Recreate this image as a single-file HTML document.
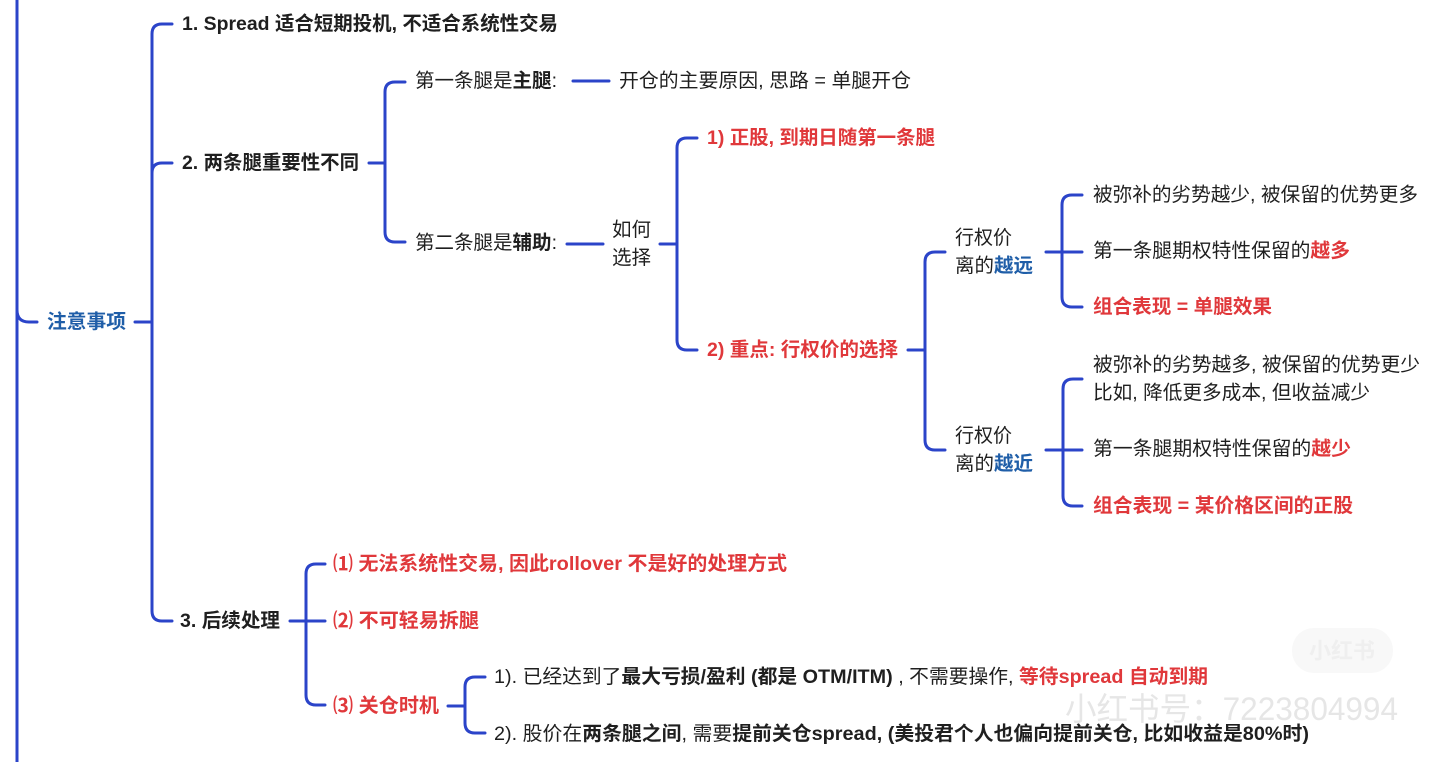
<!DOCTYPE html>
<html>
<head>
<meta charset="utf-8">
<style>
  html,body{margin:0;padding:0;background:#fff;}
  body{width:1440px;height:762px;overflow:hidden;}
  svg{display:block;}
  text{font-family:"Liberation Sans","Noto Sans CJK SC",sans-serif;font-size:19.5px;dominant-baseline:central;fill:#1f1f1f;}
  .b{font-weight:700;}
  .r{fill:#e0383b;}
  .bl{fill:#1f5ea8;}
  .ln{fill:none;stroke:#2b44c9;stroke-width:3;stroke-linecap:round;stroke-linejoin:round;}
</style>
</head>
<body>
<svg width="1440" height="762" viewBox="0 0 1440 762" xmlns="http://www.w3.org/2000/svg">
  <!-- watermark -->
  <rect x="1292" y="628" width="101" height="45" rx="22" fill="#f8f8f8"/>
  <text x="1342" y="651" text-anchor="middle" style="font-size:22px;font-weight:700;fill:#efefef;">小红书</text>
  <text x="1065" y="709" textLength="333" lengthAdjust="spacingAndGlyphs" style="font-size:32px;fill:#e6e6e6;">小红书号：7223804994</text>

  <!-- connectors -->
  <!-- A: leftmost -->
  <path class="ln" d="M17,-5 V767"/>
  <path class="ln" d="M17,310 Q17,322 29,322 H37"/>
  <!-- 注意事项 -> B -->
  <path class="ln" d="M135,322 H152"/>
  <path class="ln" d="M172,24 H162 Q152,24 152,34 V611 Q152,621 162,621 H172"/>
  <path class="ln" d="M152,173 Q152,163 162,163 H172"/>
  <!-- 2. -> C -->
  <path class="ln" d="M369,163 H385"/>
  <path class="ln" d="M405,82 H395 Q385,82 385,92 V232 Q385,242 395,242 H405"/>
  <!-- 主腿 -> 开仓 -->
  <path class="ln" d="M573,81 H609"/>
  <!-- 辅助 -> 如何 -->
  <path class="ln" d="M567,244 H603"/>
  <!-- 如何 -> D -->
  <path class="ln" d="M660,244 H677"/>
  <path class="ln" d="M697,138 H687 Q677,138 677,148 V340 Q677,350 687,350 H697"/>
  <!-- 2) -> E -->
  <path class="ln" d="M908,350 H925"/>
  <path class="ln" d="M945,252 H935 Q925,252 925,262 V440 Q925,450 935,450 H945"/>
  <!-- 越远 -> F -->
  <path class="ln" d="M1046,252 H1082"/>
  <path class="ln" d="M1082,195 H1072 Q1062,195 1062,205 V297 Q1062,307 1072,307 H1082"/>
  <!-- 越近 -> G -->
  <path class="ln" d="M1046,450 H1082"/>
  <path class="ln" d="M1082,379 H1073 Q1063,379 1063,389 V496 Q1063,506 1073,506 H1082"/>
  <!-- 3. -> H -->
  <path class="ln" d="M290,621 H325"/>
  <path class="ln" d="M325,564 H316 Q306,564 306,574 V695 Q306,705 316,705 H325"/>
  <!-- (3) -> I -->
  <path class="ln" d="M448,706 H465"/>
  <path class="ln" d="M485,677 H475 Q465,677 465,687 V723 Q465,733 475,733 H485"/>

  <!-- texts -->
  <text x="47" y="322" class="bl" style="font-weight:600;" textLength="79" lengthAdjust="spacingAndGlyphs">注意事项</text>

  <text x="182" y="24" class="b" textLength="376" lengthAdjust="spacingAndGlyphs">1. Spread 适合短期投机, 不适合系统性交易</text>
  <text x="182" y="163" class="b" textLength="177" lengthAdjust="spacingAndGlyphs">2. 两条腿重要性不同</text>

  <text x="415" y="81" textLength="142" lengthAdjust="spacingAndGlyphs">第一条腿是<tspan class="b">主腿</tspan>:</text>
  <text x="619" y="81" textLength="292" lengthAdjust="spacingAndGlyphs">开仓的主要原因,  思路 = 单腿开仓</text>
  <text x="415" y="243" textLength="142" lengthAdjust="spacingAndGlyphs">第二条腿是<tspan class="b">辅助</tspan>:</text>

  <text x="612" y="230" textLength="39" lengthAdjust="spacingAndGlyphs">如何</text>
  <text x="612" y="258" textLength="39" lengthAdjust="spacingAndGlyphs">选择</text>

  <text x="707" y="138" class="b r" textLength="228" lengthAdjust="spacingAndGlyphs">1) 正股, 到期日随第一条腿</text>
  <text x="707" y="350" class="b r" textLength="191" lengthAdjust="spacingAndGlyphs">2) 重点: 行权价的选择</text>

  <text x="955" y="238" textLength="57" lengthAdjust="spacingAndGlyphs">行权价</text>
  <text x="955" y="266" textLength="78" lengthAdjust="spacingAndGlyphs">离的<tspan class="b bl">越远</tspan></text>
  <text x="955" y="436" textLength="57" lengthAdjust="spacingAndGlyphs">行权价</text>
  <text x="955" y="464" textLength="78" lengthAdjust="spacingAndGlyphs">离的<tspan class="b bl">越近</tspan></text>

  <text x="1093" y="195" textLength="325" lengthAdjust="spacingAndGlyphs">被弥补的劣势越少, 被保留的优势更多</text>
  <text x="1093" y="251" textLength="257" lengthAdjust="spacingAndGlyphs">第一条腿期权特性保留的<tspan class="b r">越多</tspan></text>
  <text x="1093" y="307" class="b r" textLength="179" lengthAdjust="spacingAndGlyphs">组合表现 = 单腿效果</text>

  <text x="1093" y="365" textLength="327" lengthAdjust="spacingAndGlyphs">被弥补的劣势越多, 被保留的优势更少</text>
  <text x="1093" y="393" textLength="277" lengthAdjust="spacingAndGlyphs">比如, 降低更多成本, 但收益减少</text>
  <text x="1093" y="449" textLength="258" lengthAdjust="spacingAndGlyphs">第一条腿期权特性保留的<tspan class="b r">越少</tspan></text>
  <text x="1093" y="506" class="b r" textLength="260" lengthAdjust="spacingAndGlyphs">组合表现 = 某价格区间的正股</text>

  <text x="180" y="621" class="b" textLength="100" lengthAdjust="spacingAndGlyphs">3. 后续处理</text>
  <text x="333" y="564" class="r" style="font-weight:600;" textLength="454" lengthAdjust="spacingAndGlyphs">⑴ 无法系统性交易, 因此rollover 不是好的处理方式</text>
  <text x="333" y="621" class="r" style="font-weight:600;" textLength="146" lengthAdjust="spacingAndGlyphs">⑵ 不可轻易拆腿</text>
  <text x="333" y="706" class="r" style="font-weight:600;" textLength="106" lengthAdjust="spacingAndGlyphs">⑶ 关仓时机</text>

  <text x="494" y="677" textLength="714" lengthAdjust="spacingAndGlyphs">1). 已经达到了<tspan class="b">最大亏损/盈利 (都是 OTM/ITM)</tspan> , 不需要操作, <tspan class="r" style="font-weight:600;">等待spread 自动到期</tspan></text>
  <text x="494" y="734" textLength="815" lengthAdjust="spacingAndGlyphs">2). 股价在<tspan class="b">两条腿之间</tspan>, 需要<tspan class="b">提前关仓spread, (美投君个人也偏向提前关仓, 比如收益是80%时)</tspan></text>
</svg>
</body>
</html>
